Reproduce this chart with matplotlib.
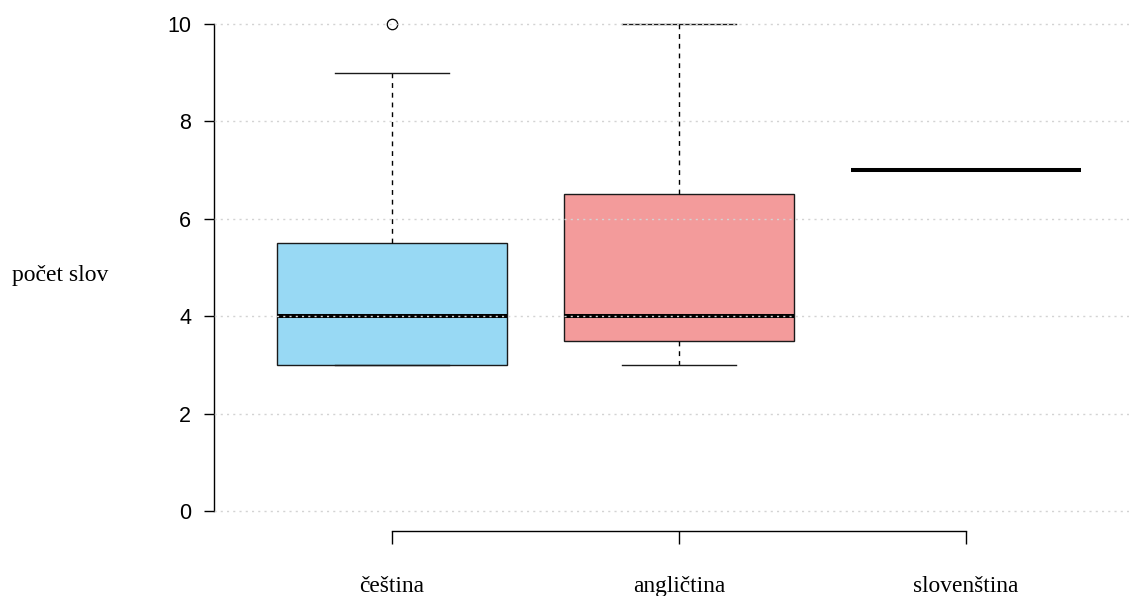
import matplotlib
matplotlib.use("Agg")
import matplotlib.pyplot as plt

# box statistics per language (word counts)
languages = ['čeština', 'angličtina', 'slovenština']
whisker_low = [3, 3, 7]
q1 = [3, 3.5, 7]
medians = [4, 4, 7]
q3 = [5.5, 6.5, 7]
whisker_high = [9, 10, 7]
outliers = [[10], [], []]
box_colors = ['#98D9F4', '#F39B9B', 'none']

W, H = 1129, 596
fig = plt.figure(figsize=(W / 100, H / 100), dpi=100)
# plot region spans the default R-style 4% padding around the data range
ax = fig.add_axes([214 / W, (H - 530.5) / H, (1144 - 214) / W, (530.5 - 4.5) / H])

stats = []
for i in range(len(languages)):
    stats.append(dict(med=medians[i], q1=q1[i], q3=q3[i],
                      whislo=whisker_low[i], whishi=whisker_high[i],
                      fliers=outliers[i], label=languages[i]))

bp = ax.bxp(stats, positions=[1, 2, 3], widths=0.8, patch_artist=True,
            showfliers=True,
            boxprops=dict(edgecolor='#1a1a1a', linewidth=1.0),
            medianprops=dict(color='black', linewidth=2.9, solid_capstyle='butt'),
            whiskerprops=dict(color='black', linewidth=1.0, linestyle=(0, (3.5, 3.5))),
            capprops=dict(color='#1a1a1a', linewidth=1.0),
            capwidths=0.4,
            flierprops=dict(marker='o', markersize=7.5, markerfacecolor='white',
                            markeredgecolor='black', markeredgewidth=0.9))
for patch, c in zip(bp['boxes'], box_colors):
    patch.set_facecolor(c)
    if c == 'none':
        patch.set_edgecolor('none')

ax.set_xlim(0.38, 3.62)
ax.set_ylim(-0.4, 10.4)

# dotted horizontal grid drawn over the boxes
ax.set_axisbelow(False)
ax.yaxis.grid(True, color='#D3D3D3', linestyle=(0, (1.5, 3)), linewidth=1.0)
ax.xaxis.grid(False)

for s in ['top', 'right']:
    ax.spines[s].set_visible(False)
ax.spines['left'].set_bounds(0, 10)
ax.spines['bottom'].set_bounds(1, 3)
for s in ['left', 'bottom']:
    ax.spines[s].set_linewidth(1.0)
    ax.spines[s].set_color('black')

ax.set_yticks([0, 2, 4, 6, 8, 10])
ax.set_yticklabels(['0', '2', '4', '6', '8', '10'],
                   fontfamily='Liberation Sans', fontsize=15.5)
ax.tick_params(axis='y', direction='out', length=7.5, width=1.0, pad=9)
ax.set_xticks([1, 2, 3])
ax.set_xticklabels(languages, fontfamily='Liberation Serif', fontsize=16.8)
ax.tick_params(axis='x', direction='out', length=9, width=1.0, pad=24)

fig.text(12 / W, 1 - 276 / H, 'počet slov', fontfamily='Liberation Serif',
         fontsize=17, ha='left', va='center')

fig.savefig('out.png', dpi=100)
